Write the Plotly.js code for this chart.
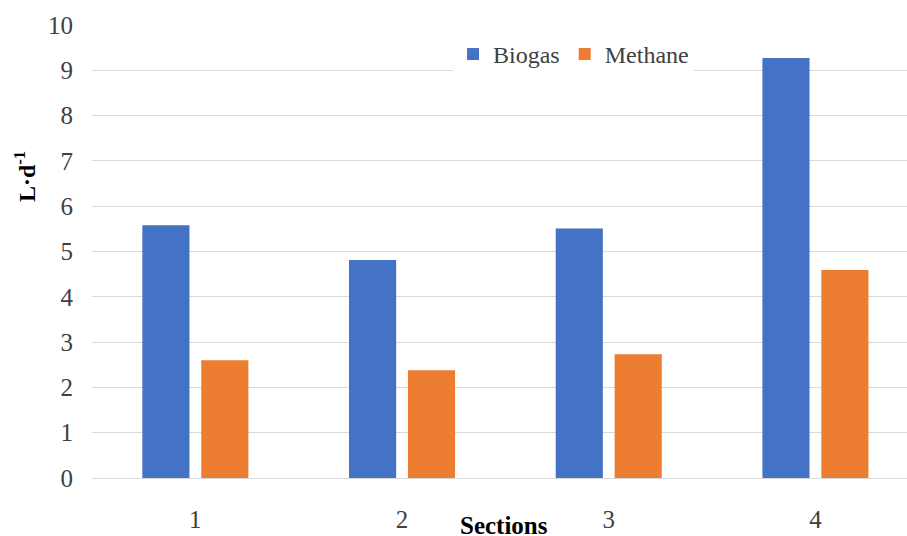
<!DOCTYPE html>
<html>
<head>
<meta charset="utf-8">
<script src="https://cdn.plot.ly/plotly-3.0.1.min.js"></script>
<style>html,body{margin:0;padding:0;background:#fff;}#chart{width:907px;height:536px;}</style>
</head>
<body>
<div id="chart"></div>
<script>
const sections = ["1", "2", "3", "4"];
const biogas = [5.58, 4.81, 5.51, 9.27];
const methane = [2.60, 2.38, 2.73, 4.59];
const yTicks = [0, 1, 2, 3, 4, 5, 6, 7, 8, 9, 10];

const FONT = "'Liberation Serif', 'Times New Roman', serif";
const traces = [
  {type: "bar", name: "Biogas", x: sections, y: biogas, marker: {color: "#4472C4"}, hoverinfo: "y"},
  {type: "bar", name: "Methane", x: sections, y: methane, marker: {color: "#ED7D31"}, hoverinfo: "y"}
];
const layout = {
  width: 907, height: 536,
  margin: {l: 92, r: 0, t: 25, b: 58, pad: 0},
  paper_bgcolor: "#fff", plot_bgcolor: "#fff",
  font: {family: FONT, color: "#404040", size: 24},
  barmode: "group", bargap: 0.43, bargroupgap: 0.2,
  showlegend: true,
  legend: {orientation: "h", x: 0.443, xanchor: "left", y: 0.935, yanchor: "middle",
           bgcolor: "#fff", font: {family: FONT, size: 24, color: "#404040"}, traceorder: "normal"},
  xaxis: {type: "category", range: [-0.5, 3.443], showgrid: false, zeroline: false,
          showline: true, linecolor: "#d9d9d9", linewidth: 1, ticks: "",
          ticklabelstandoff: 19, tickfont: {family: FONT, size: 25, color: "#404040"}},
  yaxis: {range: [0, 10], tickvals: yTicks, showgrid: true, gridcolor: "#d9d9d9", gridwidth: 1,
          zeroline: false, showline: false, ticks: "", ticklabelstandoff: 18,
          tickfont: {family: FONT, size: 25, color: "#404040"}},
  annotations: [
    {text: "<b>Sections</b>", xref: "paper", yref: "paper", x: 0.506, y: -0.105,
     xanchor: "center", yanchor: "middle", showarrow: false, font: {family: FONT, size: 25, color: "#000"}},
    {text: "<b>L·d<sup>-1</sup></b>", xref: "paper", yref: "paper", x: -0.083, y: 0.665,
     xanchor: "center", yanchor: "middle", textangle: -90, showarrow: false,
     font: {family: FONT, size: 24, color: "#000"}}
  ]
};
Plotly.newPlot("chart", traces, layout, {displayModeBar: false, staticPlot: true});
</script>
</body>
</html>
